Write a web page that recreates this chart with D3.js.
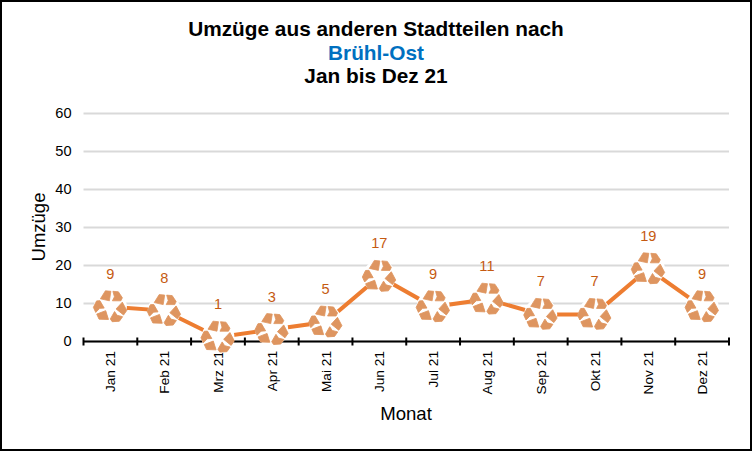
<!DOCTYPE html>
<html>
<head>
<meta charset="utf-8">
<script src="https://cdn.jsdelivr.net/npm/d3@7"></script>
<style>
  html, body { margin: 0; padding: 0; background: #fff; }
  svg { display: block; font-family: "Liberation Sans", Arial, sans-serif; }
</style>
</head>
<body>
<svg id="chart" width="752" height="451"></svg>
<script>
const months = ["Jan 21", "Feb 21", "Mrz 21", "Apr 21", "Mai 21", "Jun 21", "Jul 21", "Aug 21", "Sep 21", "Okt 21", "Nov 21", "Dez 21"];
const umzuege = [9, 8, 1, 3, 5, 17, 9, 11, 7, 7, 19, 9];
const yTicks = [0, 10, 20, 30, 40, 50, 60];
const titleLines = [
  { text: "Umzüge aus anderen Stadtteilen nach", color: "#000" },
  { text: "Brühl-Ost", color: "#0070C0" },
  { text: "Jan bis Dez 21", color: "#000" }
];

const svg = d3.select("#chart");

const x = d3.scaleBand().domain(months).range([83.5, 729]);
const y = d3.scaleLinear().domain([0, 60]).range([341, 113]);

svg.append("rect")
  .attr("x", 1).attr("y", 1).attr("width", 750).attr("height", 449)
  .attr("fill", "#fff").attr("stroke", "#000").attr("stroke-width", 2);

// title
svg.append("g").selectAll("text")
  .data(titleLines)
  .enter().append("text")
  .attr("x", 376)
  .attr("y", (d, i) => 36 + i * 23.5)
  .attr("text-anchor", "middle")
  .attr("font-size", 20.8)
  .attr("font-weight", "bold")
  .attr("fill", d => d.color)
  .text(d => d.text);

// gridlines and y labels
const yAxis = svg.append("g")
  .attr("transform", "translate(83.5,0)")
  .call(d3.axisLeft(y).tickValues(yTicks).tickSize(-645.5).tickPadding(12));
yAxis.select(".domain").remove();
yAxis.selectAll(".tick line").attr("stroke", "#D9D9D9").attr("stroke-width", 2);
yAxis.selectAll(".tick text").attr("font-size", 14.6).attr("fill", "#000").attr("font-family", "Liberation Sans");

// x axis, ticks sit on the band edges
const xAxis = svg.append("g").attr("transform", "translate(0,341.5)");
xAxis.append("line")
  .attr("x1", x.range()[0]).attr("x2", x.range()[1])
  .attr("stroke", "#000").attr("stroke-width", 2);
xAxis.selectAll(".edge")
  .data(months.concat("end"))
  .enter().append("line")
  .attr("class", "edge")
  .attr("x1", (d, i) => x.range()[0] + i * x.bandwidth())
  .attr("x2", (d, i) => x.range()[0] + i * x.bandwidth())
  .attr("y1", -4).attr("y2", 4)
  .attr("stroke", "#000").attr("stroke-width", 2);
xAxis.selectAll(".lab")
  .data(months)
  .enter().append("text")
  .attr("class", "lab")
  .attr("transform", d => `translate(${x(d) + x.bandwidth() / 2 + 5},9.5) rotate(-90)`)
  .attr("text-anchor", "end")
  .attr("font-size", 13.7)
  .attr("fill", "#000")
  .text(d => d);

// axis titles
svg.append("text")
  .attr("transform", "translate(45,227) rotate(-90)")
  .attr("text-anchor", "middle")
  .attr("font-size", 18.5)
  .text("Umzüge");
svg.append("text")
  .attr("x", 406).attr("y", 420)
  .attr("text-anchor", "middle")
  .attr("font-size", 18.6)
  .text("Monat");

// line
const cx = (d, i) => x(months[i]) + x.bandwidth() / 2;
svg.append("path")
  .datum(umzuege)
  .attr("fill", "none")
  .attr("stroke", "#ED7D31")
  .attr("stroke-width", 4)
  .attr("d", d3.line().x(cx).y(d => y(d)));

// recycling marker: white halo plus three block + arrowhead pairs
const block = "M-10,-8 L-5,-16 L0.5,-15.5 L-1,-6 Z";
const head = "M2.5,-15.5 L8,-15 L12,-9 L10.5,-6 L2,-6 L4,-10 Z";
const marker = svg.append("g").selectAll("g")
  .data(umzuege)
  .enter().append("g")
  .attr("transform", (d, i) => `translate(${cx(d, i)},${y(d)})`);
marker.append("circle").attr("r", 16.5).attr("fill", "#fff");
[block, head].forEach(shape => {
  marker.selectAll(null)
    .data([0, 120, 240])
    .enter().append("path")
    .attr("d", shape)
    .attr("transform", a => `rotate(${a})`)
    .attr("fill", "#DE9560")
    .attr("stroke", "#DE9560")
    .attr("stroke-width", 0.8)
    .attr("stroke-linejoin", "round");
});

// value labels
svg.append("g").selectAll("text")
  .data(umzuege)
  .enter().append("text")
  .attr("x", cx)
  .attr("y", d => y(d) - 28)
  .attr("text-anchor", "middle")
  .attr("font-size", 14.6)
  .attr("fill", "#C55A11")
  .text(d => d);
</script>
</body>
</html>
